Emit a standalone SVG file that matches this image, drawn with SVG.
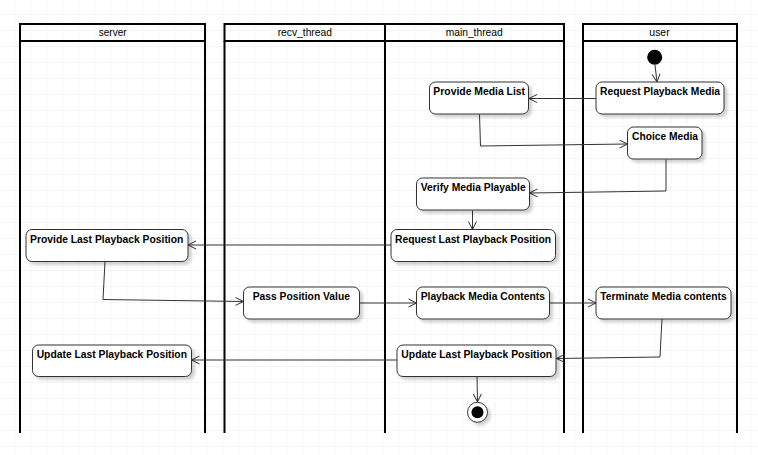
<svg xmlns="http://www.w3.org/2000/svg" width="758" height="455" viewBox="0 0 758 455">
<defs>
  <pattern id="grid" x="-0.5" y="-1" width="16" height="16" patternUnits="userSpaceOnUse">
    <path d="M16 0V16M0 16H16" fill="none" stroke="#ebebeb" stroke-width="1"/>
  </pattern>
  <filter id="sh" x="-10%" y="-20%" width="130%" height="160%">
    <feDropShadow dx="3" dy="3" stdDeviation="1.5" flood-color="#000" flood-opacity="0.18"/>
  </filter>
  <marker id="arr" markerUnits="userSpaceOnUse" markerWidth="12" markerHeight="12" viewBox="-10 -6 12 12" refX="0" refY="0" orient="auto">
    <path d="M-8,-4 L0,0 L-8,4" fill="none" stroke="#333" stroke-width="1"/>
  </marker>
  <style>
    .lane{fill:none;stroke:#000;stroke-width:2}
    .hdr{font-family:"Liberation Sans",Arial,sans-serif;font-size:11px;fill:#000;text-anchor:middle}
    .node rect{fill:#fff;stroke:#333;stroke-width:1;filter:url(#sh)}
    .node text{font-family:"Liberation Sans",Arial,sans-serif;font-size:11px;font-weight:bold;fill:#000;text-anchor:middle}
    .edge{fill:none;stroke:#333;stroke-width:1;marker-end:url(#arr)}
  </style>
</defs>
<rect width="758" height="455" fill="#fff"/>
<rect width="758" height="455" fill="url(#grid)"/>

<g id="lane-server">
  <rect class="lane" x="20" y="24" width="185" height="17"/>
  <path class="lane" d="M20 41V433M205 41V433"/>
  <text class="hdr" x="112.7" y="36" textLength="28" lengthAdjust="spacingAndGlyphs">server</text>
</g>
<g id="lane-recv_thread">
  <rect class="lane" x="224.5" y="24" width="160.5" height="17"/>
  <path class="lane" d="M224.5 41V433M385 41V433"/>
  <text class="hdr" x="304.8" y="36" textLength="54.3" lengthAdjust="spacingAndGlyphs">recv_thread</text>
</g>
<g id="lane-main_thread">
  <rect class="lane" x="385" y="24" width="179" height="17"/>
  <path class="lane" d="M385 41V433M564 41V433"/>
  <text class="hdr" x="474.2" y="36" textLength="57" lengthAdjust="spacingAndGlyphs">main_thread</text>
</g>
<g id="lane-user">
  <rect class="lane" x="583" y="24" width="154" height="17"/>
  <path class="lane" d="M583 41V433M737 41V433"/>
  <text class="hdr" x="659.5" y="36" textLength="20.3" lengthAdjust="spacingAndGlyphs">user</text>
</g>

<g id="connectors">
  <path class="edge" d="M655 65 L657 82"/>
  <path class="edge" d="M596 98.5 H529"/>
  <path class="edge" d="M479.5 114.5 L480.5 146 L627.5 144"/>
  <path class="edge" d="M666 159.5 V191 L529.5 193"/>
  <path class="edge" d="M472.5 210.5 V229.5"/>
  <path class="edge" d="M391 245 H188"/>
  <path class="edge" d="M105 261.5 L103 299.5 L243.5 301.5"/>
  <path class="edge" d="M359.5 303 H416.5"/>
  <path class="edge" d="M549.5 303 H596"/>
  <path class="edge" d="M662 319 L660 357 L556.5 358.5"/>
  <path class="edge" d="M397 360 H191.5"/>
  <path class="edge" d="M477 376.5 L477.5 402"/>
</g>

<g id="start">
  <circle cx="654.7" cy="57.3" r="7.5" fill="#000"/>
</g>
<g id="end">
  <circle cx="477.5" cy="412.3" r="10" fill="#fff" stroke="#333" stroke-width="1" filter="url(#sh)"/>
  <circle cx="477.5" cy="412.3" r="6" fill="#000"/>
</g>

<g id="n-provide-media-list" class="node">
  <rect x="429.5" y="82" width="99" height="32" rx="6"/>
  <text x="479.2" y="95" textLength="91.7" lengthAdjust="spacingAndGlyphs">Provide Media List</text>
</g>
<g id="n-request-playback-media" class="node">
  <rect x="596" y="82" width="128" height="32" rx="6"/>
  <text x="660" y="95" textLength="120" lengthAdjust="spacingAndGlyphs">Request Playback Media</text>
</g>
<g id="n-choice-media" class="node">
  <rect x="627.5" y="127" width="74.5" height="32" rx="6"/>
  <text x="665" y="140" textLength="66" lengthAdjust="spacingAndGlyphs">Choice Media</text>
</g>
<g id="n-verify-media-playable" class="node">
  <rect x="416.5" y="178" width="113" height="32" rx="6"/>
  <text x="473.2" y="191" textLength="105" lengthAdjust="spacingAndGlyphs">Verify Media Playable</text>
</g>
<g id="n-request-last-playback-position" class="node">
  <rect x="391" y="229.5" width="164.5" height="32" rx="6"/>
  <text x="473" y="243" textLength="156" lengthAdjust="spacingAndGlyphs">Request Last Playback Position</text>
</g>
<g id="n-provide-last-playback-position" class="node">
  <rect x="26" y="229.5" width="162" height="32" rx="6"/>
  <text x="106.7" y="243" textLength="153.3" lengthAdjust="spacingAndGlyphs">Provide Last Playback Position</text>
</g>
<g id="n-pass-position-value" class="node">
  <rect x="243.5" y="287" width="116" height="32" rx="6"/>
  <text x="301.3" y="300" textLength="97.3" lengthAdjust="spacingAndGlyphs">Pass Position Value</text>
</g>
<g id="n-playback-media-contents" class="node">
  <rect x="416.5" y="287" width="133" height="32" rx="6"/>
  <text x="482.8" y="300" textLength="124.3" lengthAdjust="spacingAndGlyphs">Playback Media Contents</text>
</g>
<g id="n-terminate-media-contents" class="node">
  <rect x="596" y="287" width="135" height="32" rx="6"/>
  <text x="663.5" y="300" textLength="126.3" lengthAdjust="spacingAndGlyphs">Terminate Media contents</text>
</g>
<g id="n-update-last-playback-position-server" class="node">
  <rect x="32.5" y="345" width="159" height="31.5" rx="6"/>
  <text x="111.8" y="358" textLength="150.3" lengthAdjust="spacingAndGlyphs">Update Last Playback Position</text>
</g>
<g id="n-update-last-playback-position-main" class="node">
  <rect x="397" y="345" width="159" height="31.5" rx="6"/>
  <text x="476.7" y="358" textLength="150.7" lengthAdjust="spacingAndGlyphs">Update Last Playback Position</text>
</g>
</svg>
